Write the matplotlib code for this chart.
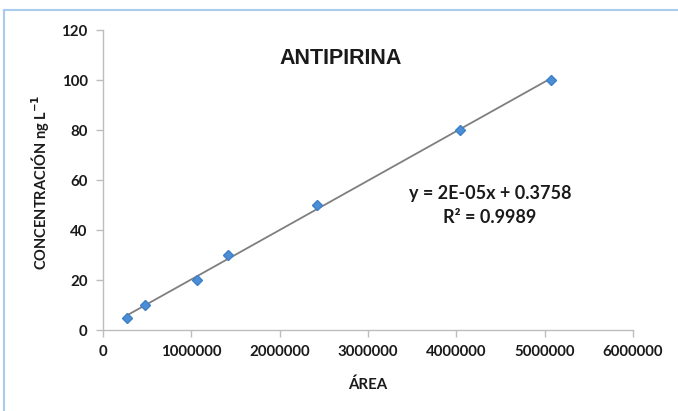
import numpy as np
import matplotlib.pyplot as plt
from matplotlib.lines import Line2D

# calibration points
area = [270000, 480000, 1060000, 1420000, 2420000, 4040000, 5070000]
conc = [5, 10, 20, 30, 50, 80, 100]
xticks = [0, 1000000, 2000000, 3000000, 4000000, 5000000, 6000000]
yticks = [0, 20, 40, 60, 80, 100, 120]

fig = plt.figure(figsize=(6.78, 4.11), dpi=100)
ax = fig.add_axes([103/678, 1 - 330/411, 530/678, 300/411])

# linear trend line over the data range
coef = np.polyfit(area, conc, 1)
xs = np.array([min(area), max(area)])
ax.plot(xs, np.polyval(coef, xs), color="#7f7f7f", lw=1.3, zorder=2)
ax.plot(area, conc, linestyle="none", marker="D", ms=5.5, color="#4a8fd6",
        markeredgecolor="#3f7fc8", zorder=3)

ax.set_xlim(0, 6000000)
ax.set_ylim(0, 120)
ax.set_xticks(xticks)
ax.set_yticks(yticks)
ax.set_xticklabels([str(v) for v in xticks])
ax.set_yticklabels([str(v) for v in yticks])

for s in ["top", "right"]:
    ax.spines[s].set_visible(False)
for s in ["left", "bottom"]:
    ax.spines[s].set_color("#bdbdbd")
    ax.spines[s].set_linewidth(1.0)
ax.tick_params(colors="#bdbdbd", length=5, width=1.0, direction="out",
               labelcolor="#1a1a1a", labelsize=10.8)
for lab in ax.get_xticklabels() + ax.get_yticklabels():
    lab.set_fontfamily("Lato")
    lab.set_fontweight("bold")
ax.tick_params(axis="x", pad=6)
ax.tick_params(axis="y", pad=6)

ax.set_xlabel("ÁREA", fontfamily="Lato", fontweight="bold", fontsize=10.8,
              color="#1a1a1a", labelpad=13)
fig.text(40/678, 1 - 182/411, "CONCENTRACIÓN ng L$^{\\mathbf{-1}}$", rotation=90,
         ha="center", va="center", fontfamily="Lato", fontweight="bold",
         fontsize=10.5, color="#1a1a1a")

fig.text(341/678, 1 - 58/411, "ANTIPIRINA", ha="center", va="center",
         fontfamily="Liberation Sans", fontweight="bold", fontsize=15.5,
         color="#1a1a1a")
fig.text(490/678, 1 - 193/411, "y = 2E-05x + 0.3758", ha="center", va="center",
         fontfamily="Lato", fontweight="bold", fontsize=13, color="#1a1a1a")
fig.text(490/678, 1 - 217/411, "R² = 0.9989", ha="center", va="center",
         fontfamily="Lato", fontweight="bold", fontsize=13, color="#1a1a1a")

# light blue frame around the chart area
fig.add_artist(Line2D([4/678, 1], [1 - 10/411, 1 - 10/411], color="#a9cbec",
                      lw=1.5, transform=fig.transFigure))
fig.add_artist(Line2D([4/678, 4/678], [0, 1 - 10/411], color="#a9cbec",
                      lw=1.5, transform=fig.transFigure))

fig.savefig("out.png", dpi=100)
